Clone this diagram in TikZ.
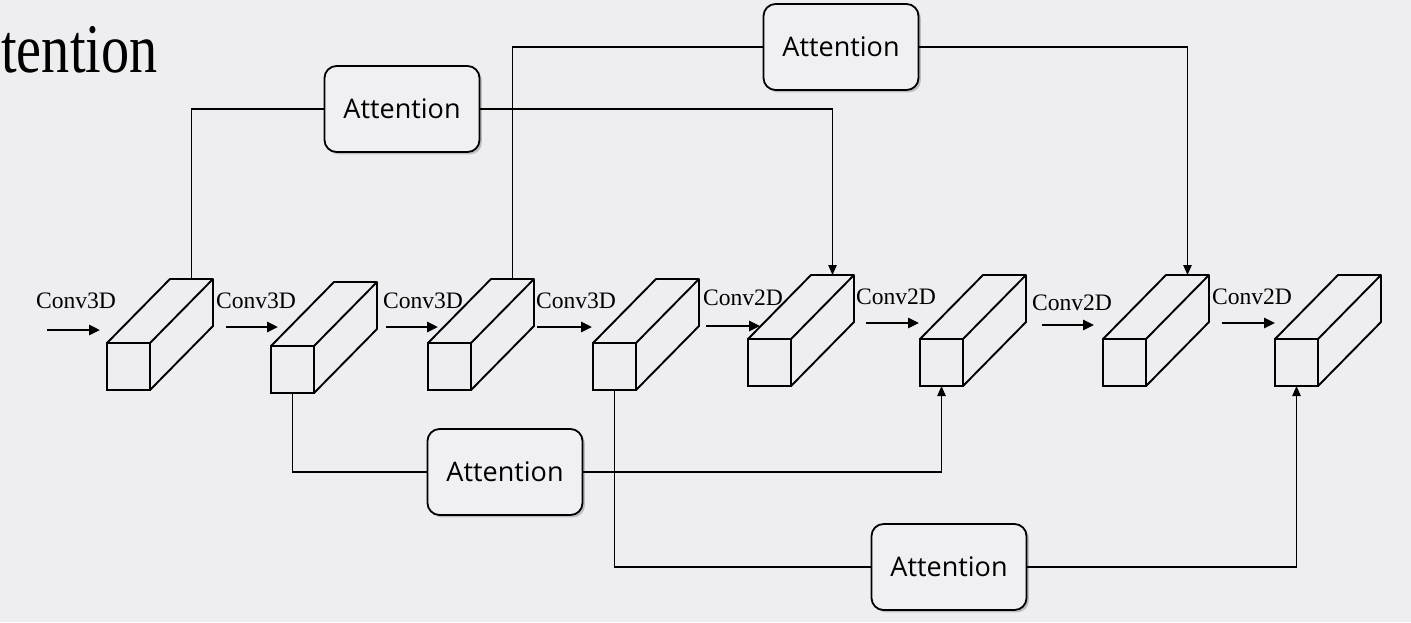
\documentclass[tikz,border=0pt]{standalone}
\usepackage{fontspec}
\setmainfont{Liberation Serif}
\newfontfamily\attfont{Open Sans}
\usetikzlibrary{arrows.meta,shadows}
\definecolor{bgc}{RGB}{238,237,240}
\definecolor{attfill}{RGB}{240,239,242}
\tikzset{
  face/.style={draw, line width=0.95pt, fill=bgc, minimum width=21.5pt, minimum height=23.5pt, inner sep=0pt, outer sep=0pt},
  boxline/.style={line width=0.95pt, fill=bgc, line join=round},
  attbox/.style={draw, line width=0.9pt, rounded corners=6pt, fill=attfill, minimum width=77.5pt, minimum height=43pt,
     font=\attfont\fontsize{13.5}{15}\selectfont,
     drop shadow={shadow xshift=1.2pt, shadow yshift=-1.2pt, opacity=0.35, fill=black!60}},
  conn/.style={line width=0.65pt},
  connarrow/.style={line width=0.65pt, -{Triangle[length=5pt,width=4.2pt]}},
  convarrow/.style={line width=1.3pt, -{Triangle[length=5.5pt,width=5pt]}},
  convlabel/.style={font=\fontsize{11.8}{13}\selectfont, inner sep=0pt},
}
\newcommand{\mycuboid}[3]{%
  \node[face, anchor=south west] (#1) at (#2,#3) {};
  \draw[boxline] (#1.north west) -- ++(63,-64) -- ++(43,0) -- ++(0,47) -- (#1.south east) -- (#1.north east) -- cycle;
  \draw[boxline] (#1.north east) -- ++(63,-64);
  \coordinate (#1t) at ([shift={(63,-64)}]#1.north);
  \coordinate (#1b) at (#1.south);
}
\begin{document}
\begin{tikzpicture}[x=0.5pt, y=-0.5pt]
  \fill[bgc] (0,0) rectangle (1411,622);
  \useasboundingbox (0,0) rectangle (1411,622);

  \node[anchor=base east, inner sep=0pt, font=\fontsize{29}{31}\selectfont] (title) at (158,72) {\scalebox{0.97}[1.2]{tention}};

  % cuboids
  \mycuboid{b1}{107}{390}
  \mycuboid{b2}{271}{393}
  \mycuboid{b3}{428}{390}
  \mycuboid{b4}{593}{390}
  \mycuboid{b5}{748}{386}
  \mycuboid{b6}{920}{386}
  \mycuboid{b7}{1103}{386}
  \mycuboid{b8}{1275}{386}

  % attention boxes
  \node[attbox] (A1) at (402,109) {Attention};
  \node[attbox] (A2) at (841,47) {Attention};
  \node[attbox] (A3) at (505,472) {Attention};
  \node[attbox] (A4) at (949,567) {Attention};

  % skip connections
  \draw[conn] (b1t) |- (A1);
  \draw[connarrow] (A1) -| (b5t);
  \draw[conn] (b3t) |- (A2);
  \draw[connarrow] (A2) -| (b7t);
  \draw[conn] (b2b) |- (A3);
  \draw[connarrow] (A3) -| (b6b);
  \draw[conn] (b4b) |- (A4);
  \draw[connarrow] (A4) -| (b8b);

  % conv arrows and labels
  \coordinate (s1) at (47,330);   \coordinate (e1) at (100,330);
  \coordinate (s2) at (226,327);  \coordinate (e2) at (278,327);
  \coordinate (s3) at (386,327);  \coordinate (e3) at (438,327);
  \coordinate (s4) at (537,327);  \coordinate (e4) at (592,327);
  \coordinate (s5) at (706,326);  \coordinate (e5) at (760,326);
  \coordinate (s6) at (866,323);  \coordinate (e6) at (919,323);
  \coordinate (s7) at (1042,325); \coordinate (e7) at (1094,325);
  \coordinate (s8) at (1222,323); \coordinate (e8) at (1275,323);
  \foreach \i in {1,...,8} { \draw[convarrow] (s\i) -- (e\i); }

  \node[convlabel] (c1) at (76,301) {Conv3D};
  \node[convlabel] (c2) at (256,301) {Conv3D};
  \node[convlabel] (c3) at (423,301) {Conv3D};
  \node[convlabel] (c4) at (576,301) {Conv3D};
  \node[convlabel] (c5) at (743,298) {Conv2D};
  \node[convlabel] (c6) at (896,297) {Conv2D};
  \node[convlabel] (c7) at (1072,303) {Conv2D};
  \node[convlabel] (c8) at (1252,297) {Conv2D};
\end{tikzpicture}
\end{document}
